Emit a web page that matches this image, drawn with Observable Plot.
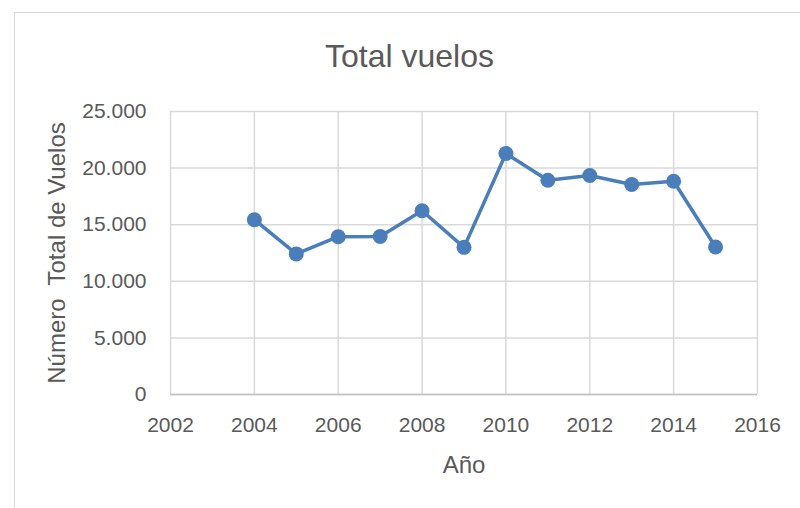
<!DOCTYPE html>
<html>
<head>
<meta charset="utf-8">
<script src="https://cdn.jsdelivr.net/npm/d3@7"></script>
<script src="https://cdn.jsdelivr.net/npm/@observablehq/plot@0.6"></script>
<style>
  html, body { margin: 0; padding: 0; background: #fff; }
  #wrap { position: relative; width: 800px; height: 508px; overflow: hidden; font-family: "Liberation Sans", Arial, sans-serif; }
  #frame { position: absolute; left: 14px; top: 12px; width: 800px; height: 520px; border: 1px solid #d9d9d9; box-sizing: border-box; }
  #title { position: absolute; left: 0; top: 40px; width: 819px; text-align: center; line-height: 32px; font-size: 32px; color: #595959; white-space: nowrap; }
  #chart { position: absolute; left: 0; top: 90px; }
</style>
</head>
<body>
<div id="wrap">
  <div id="frame"></div>
  <div id="title"></div>
  <div id="chart"></div>
</div>
<script>
const titleText = "Total vuelos";
const xLabel = "Año";
const yLabel = "Número  Total de Vuelos";
const years = [2004, 2005, 2006, 2007, 2008, 2009, 2010, 2011, 2012, 2013, 2014, 2015];
const flights = [15440, 12420, 13940, 13960, 16230, 13000, 21290, 18930, 19350, 18550, 18840, 13030];
const xTicks = [2002, 2004, 2006, 2008, 2010, 2012, 2014, 2016];
const yTicks = [0, 5000, 10000, 15000, 20000, 25000];

document.getElementById("title").textContent = titleText;

const data = years.map((year, i) => ({year, flights: flights[i]}));
const fmtY = d => d3.format(",")(d).replace(/,/g, ".");
const grey = "#595959";
const grid = "#d9d9d9";
const blue = "#4a7ebb";

const chart = Plot.plot({
  width: 800,
  height: 418,
  marginTop: 21,
  marginBottom: 114,
  marginLeft: 170,
  marginRight: 43,
  style: {fontFamily: "'Liberation Sans', Arial, sans-serif", fontSize: "21px", color: grey, background: "transparent", overflow: "visible"},
  x: {domain: [2002, 2016]},
  y: {domain: [0, 25000]},
  marks: [
    Plot.gridX(xTicks, {stroke: grid, strokeOpacity: 1, strokeWidth: 1.5}),
    Plot.gridY(yTicks, {stroke: grid, strokeOpacity: 1, strokeWidth: 1.5}),
    Plot.ruleY([0], {stroke: "#bfbfbf", strokeWidth: 1.5}),
    Plot.axisX(xTicks, {tickSize: 0, tickPadding: 23, tickFormat: d => String(d), label: null, fill: grey, fontSize: 21}),
    Plot.axisY(yTicks, {tickSize: 0, tickPadding: 24, tickFormat: fmtY, label: null, fill: grey, fontSize: 21}),
    Plot.line(data, {x: "year", y: "flights", stroke: blue, strokeWidth: 3.5}),
    Plot.dot(data, {x: "year", y: "flights", r: 7.5, fill: blue, stroke: "none"}),
    Plot.text([xLabel], {frameAnchor: "bottom", dy: 71, fill: grey, fontSize: 24, lineAnchor: "middle", textAnchor: "middle"}),
    Plot.text([yLabel], {frameAnchor: "left", dx: -113, rotate: -90, fill: grey, fontSize: 24, lineAnchor: "middle", textAnchor: "middle"})
  ]
});
chart.querySelectorAll("text").forEach(t => { t.setAttribute("xml:space", "preserve"); t.style.whiteSpace = "pre"; });
document.getElementById("chart").appendChild(chart);
</script>
</body>
</html>
